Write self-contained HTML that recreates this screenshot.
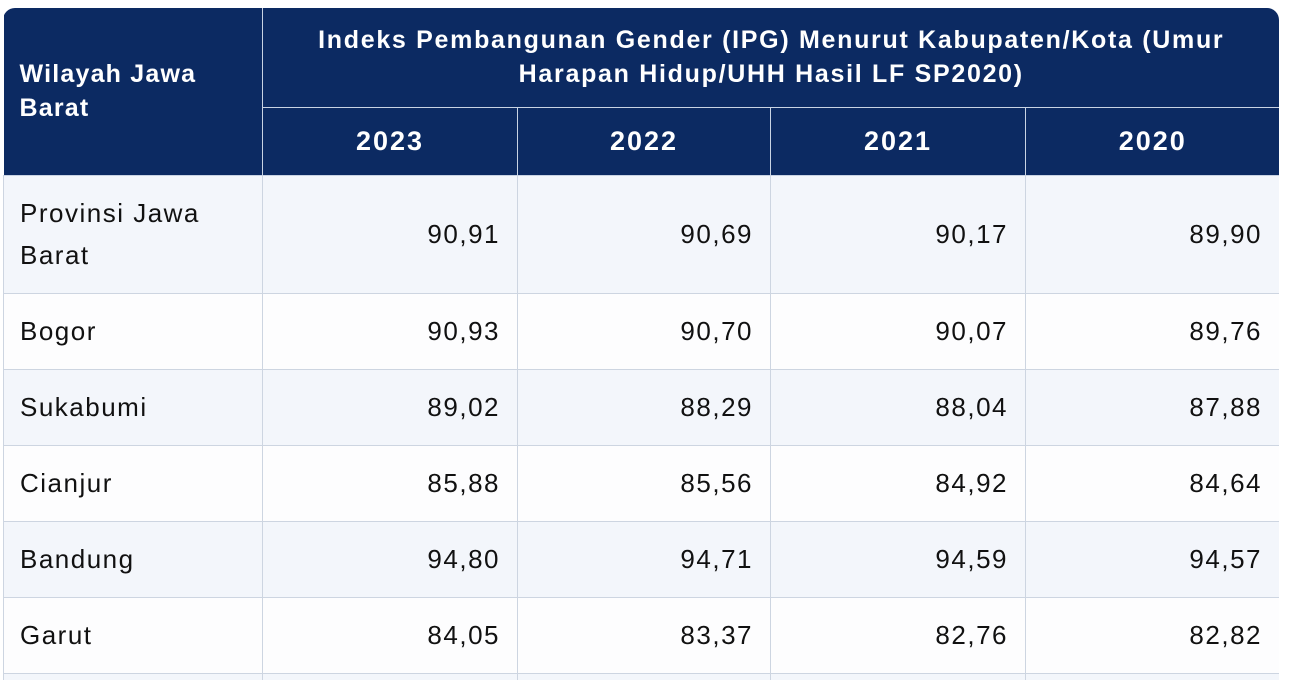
<!DOCTYPE html>
<html><head><meta charset="utf-8"><style>
body{margin:0;width:1292px;height:680px;overflow:hidden;background:#fff;font-family:"Liberation Sans",Arial,sans-serif;}
.wrap{position:absolute;left:3px;top:8px;width:1276px;height:672px;border-radius:12px 12px 0 0;overflow:hidden;}
table{border-collapse:collapse;table-layout:fixed;width:1276px;}
th{background:#0c2a62;color:#fff;font-weight:bold;font-size:25px;border:1.5px solid #c9d3e3;padding:0;letter-spacing:1.7px;}
th.c{text-align:center;line-height:34px;}
th.y{font-size:27px;letter-spacing:2px;}
td{font-size:26px;color:#111;border:1.5px solid #cdd5e1;padding:0 18px 0 16px;letter-spacing:1.5px;}
td.n{text-align:right;padding-right:17px;}
tr.a td{background:#f3f6fb;}
tr.b td{background:#fdfdfe;}
</style></head><body>
<div class="wrap">
<table>
<colgroup><col style="width:259px"><col style="width:255px"><col style="width:253px"><col style="width:255px"><col style="width:254px"></colgroup>
<tr style="height:99px">
<th rowspan="2" style="text-align:left;padding-left:16px;line-height:34px;border-top:none;border-left:none;letter-spacing:1.2px">Wilayah Jawa<br>Barat</th>
<th colspan="4" class="c" style="border-top:none;border-right:none">Indeks Pembangunan Gender (IPG) Menurut Kabupaten/Kota (Umur<br>Harapan Hidup/UHH Hasil LF SP2020)</th>
</tr>
<tr style="height:68px">
<th class="c y">2023</th>
<th class="c y">2022</th>
<th class="c y">2021</th>
<th class="c y" style="border-right:none">2020</th>
</tr>
<tr class="a" style="height:118px">
<td style="line-height:42px">Provinsi Jawa<br>Barat</td><td class="n">90,91</td><td class="n">90,69</td><td class="n">90,17</td><td class="n">89,90</td></tr>
<tr class="b" style="height:76px">
<td>Bogor</td><td class="n">90,93</td><td class="n">90,70</td><td class="n">90,07</td><td class="n">89,76</td></tr>
<tr class="a" style="height:76px">
<td>Sukabumi</td><td class="n">89,02</td><td class="n">88,29</td><td class="n">88,04</td><td class="n">87,88</td></tr>
<tr class="b" style="height:76px">
<td>Cianjur</td><td class="n">85,88</td><td class="n">85,56</td><td class="n">84,92</td><td class="n">84,64</td></tr>
<tr class="a" style="height:76px">
<td>Bandung</td><td class="n">94,80</td><td class="n">94,71</td><td class="n">94,59</td><td class="n">94,57</td></tr>
<tr class="b" style="height:76px">
<td>Garut</td><td class="n">84,05</td><td class="n">83,37</td><td class="n">82,76</td><td class="n">82,82</td></tr>
<tr class="a" style="height:76px">
<td></td><td></td><td></td><td></td><td></td></tr>
</table>
</div>
</body></html>
